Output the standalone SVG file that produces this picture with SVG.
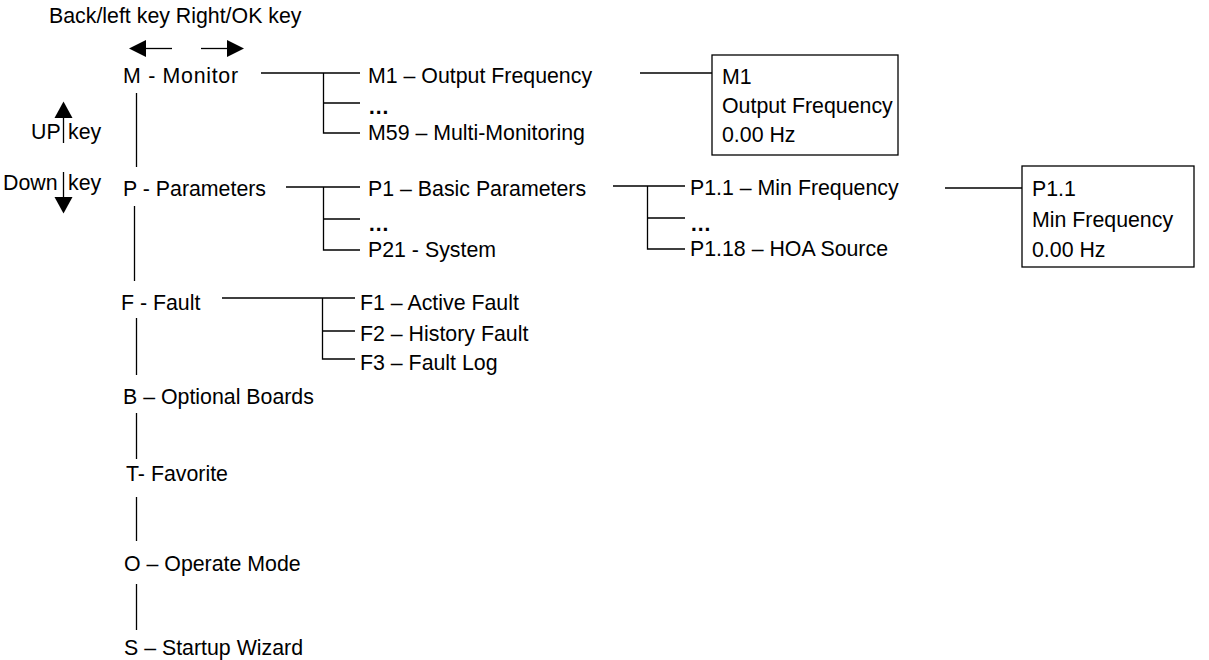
<svg xmlns="http://www.w3.org/2000/svg" width="1209" height="660" viewBox="0 0 1209 660">
<defs>
<style>
text{font-family:"Liberation Sans",Arial,sans-serif;font-size:21.33px;fill:#000}
.dots{font-weight:bold}
.ln{stroke:#000;stroke-width:1.3;fill:none}
.box{stroke:#000;stroke-width:1.3;fill:#fff}
.ah{fill:#000}
</style>
</defs>
<rect width="1209" height="660" fill="#fff"/>
<g id="keys">
<text x="49" y="23">Back/left key Right/OK key</text>
<line class="ln" x1="172" y1="48.5" x2="145" y2="48.5"/>
<polygon class="ah" points="129,48.5 146,40 146,57"/>
<line class="ln" x1="201" y1="48.5" x2="228" y2="48.5"/>
<polygon class="ah" points="244,48.5 227,40 227,57"/>
<text x="31" y="139">UP</text>
<text x="68" y="139">key</text>
<line class="ln" x1="63.5" y1="117" x2="63.5" y2="143"/>
<polygon class="ah" points="63.5,101.5 54.5,118 72.5,118"/>
<text x="3" y="190">Down</text>
<text x="68" y="190">key</text>
<line class="ln" x1="63.5" y1="172" x2="63.5" y2="198"/>
<polygon class="ah" points="63.5,213.5 54.5,197 72.5,197"/>
</g>
<g id="connectors">
<line class="ln" x1="136.5" y1="93" x2="136.5" y2="167"/>
<line class="ln" x1="134.5" y1="206" x2="134.5" y2="281"/>
<line class="ln" x1="136.5" y1="318" x2="136.5" y2="375"/>
<line class="ln" x1="136.5" y1="413" x2="136.5" y2="459"/>
<line class="ln" x1="136.5" y1="497" x2="136.5" y2="541"/>
<line class="ln" x1="136.5" y1="584" x2="136.5" y2="630"/>
<path class="ln" d="M261,73 H360 M323.5,73 V133 H360 M323.5,103 H360"/>
<line class="ln" x1="640" y1="73" x2="712" y2="73"/>
<path class="ln" d="M286,187 H360 M323.5,187 V250 H360 M323.5,219 H360"/>
<path class="ln" d="M613,186 H685 M647.5,186 V249 H685 M647.5,218 H685"/>
<line class="ln" x1="945" y1="188" x2="1022" y2="188"/>
<path class="ln" d="M222,298 H355 M322.5,298 V359 H355 M322.5,331 H355"/>
</g>
<g id="n-monitor"><text x="123" y="83" textLength="115">M - Monitor</text></g>
<g id="n-m1"><text x="368" y="83">M1 – Output Frequency</text></g>
<g id="n-mdots"><text class="dots" x="368" y="114">…</text></g>
<g id="n-m59"><text x="368" y="140">M59 – Multi-Monitoring</text></g>
<g id="n-m1box">
<rect class="box" x="712" y="55" width="186" height="100"/>
<text x="722" y="84">M1</text>
<text x="722" y="113">Output Frequency</text>
<text x="722" y="142">0.00 Hz</text>
</g>
<g id="n-params"><text x="123" y="196">P - Parameters</text></g>
<g id="n-p1"><text x="368" y="196">P1 – Basic Parameters</text></g>
<g id="n-pdots"><text class="dots" x="368" y="231">…</text></g>
<g id="n-p21"><text x="368" y="257">P21 - System</text></g>
<g id="n-p11"><text x="690" y="195">P1.1 – Min Frequency</text></g>
<g id="n-p1dots"><text class="dots" x="690" y="231">…</text></g>
<g id="n-p118"><text x="690" y="256">P1.18 – HOA Source</text></g>
<g id="n-p11box">
<rect class="box" x="1022" y="166" width="172" height="101"/>
<text x="1032" y="196">P1.1</text>
<text x="1032" y="227">Min Frequency</text>
<text x="1032" y="257">0.00 Hz</text>
</g>
<g id="n-fault"><text x="121" y="310">F - Fault</text></g>
<g id="n-f1"><text x="360" y="310">F1 – Active Fault</text></g>
<g id="n-f2"><text x="360" y="341">F2 – History Fault</text></g>
<g id="n-f3"><text x="360" y="370">F3 – Fault Log</text></g>
<g id="n-boards"><text x="123" y="404">B – Optional Boards</text></g>
<g id="n-favorite"><text x="126" y="481">T- Favorite</text></g>
<g id="n-operate"><text x="124" y="571">O – Operate Mode</text></g>
<g id="n-startup"><text x="124" y="655">S – Startup Wizard</text></g>
</svg>
